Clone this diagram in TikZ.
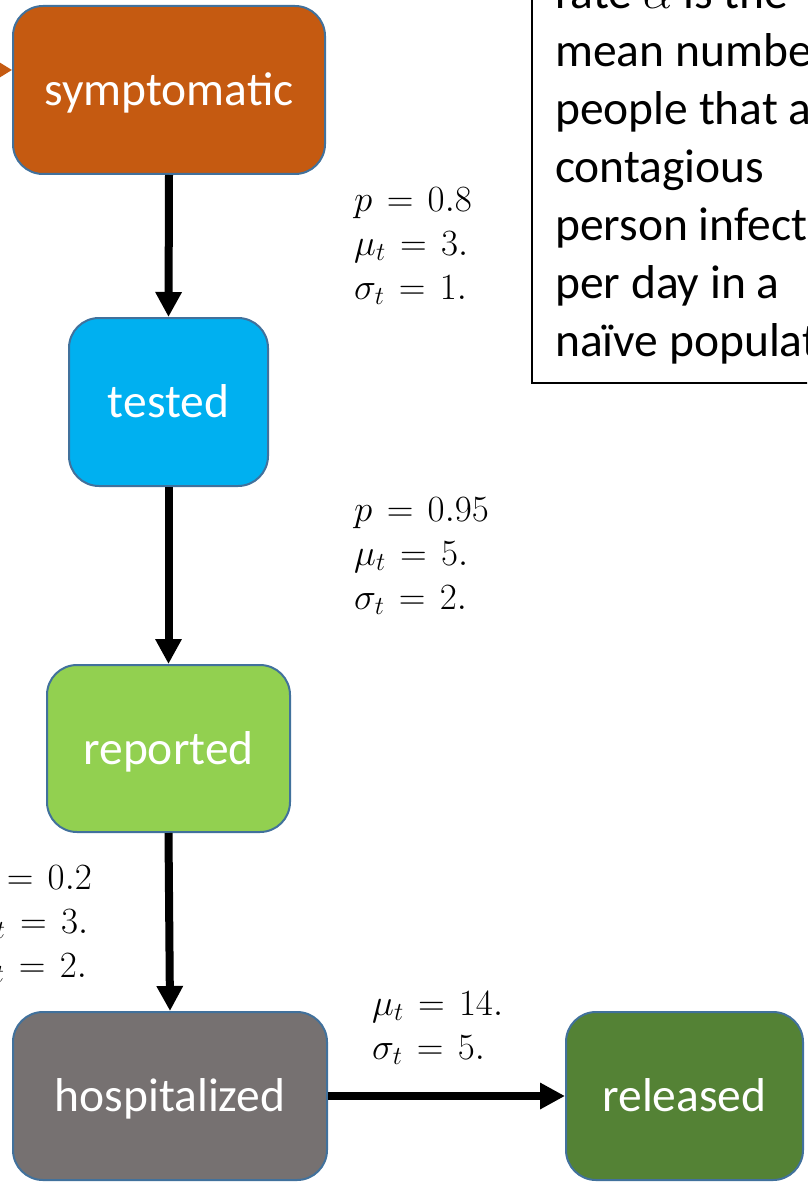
\RequirePackage{fix-cm}
\documentclass[tikz,border=0pt]{standalone}
\usepackage{fontspec}
\setmainfont{Carlito}
\usetikzlibrary{arrows.meta}
\thickmuskip=7mu
\definecolor{bord}{HTML}{41719C}
\definecolor{corange}{HTML}{C55A11}
\definecolor{cblue}{HTML}{00B0F0}
\definecolor{clgreen}{HTML}{92D050}
\definecolor{cgray}{HTML}{767171}
\definecolor{cdgreen}{HTML}{548235}
\begin{document}
\begin{tikzpicture}[x=1pt,y=-1pt,
  box/.style={draw=bord, line width=2pt, rounded corners=30pt, text=white,
    font=\fontsize{47.5}{55}\selectfont, inner sep=0pt, text height=31pt, text depth=0pt},
  flow/.style={line width=8pt, -{Triangle[width=25pt,length=25pt]}},
  inflow/.style={draw=corange, line width=3pt, -{Triangle[width=20pt,length=17pt]}, color=corange},
  lab/.style={anchor=north west, align=left, inner sep=0pt,
    font=\fontsize{37}{44}\selectfont},
  notebox/.style={anchor=north west, align=left, inner sep=0pt, font=\fontsize{47.5}{58}\selectfont}]
\useasboundingbox (0,0) rectangle (807,1182);
\clip (0,0) rectangle (807,1182);

\node[box, fill=corange, minimum width=312pt, minimum height=168pt] (symp) at (169,90) {symptomatic};
\node[box, fill=cblue, minimum width=199pt, minimum height=168pt] (test) at (168.5,402) {tested};
\node[box, fill=clgreen, minimum width=243pt, minimum height=167pt] (rep) at (168.5,748.5) {reported};
\node[box, fill=cgray, minimum width=314pt, minimum height=168pt] (hosp) at (170,1096) {hospitalized};
\node[box, fill=cdgreen, minimum width=237pt, minimum height=168pt] (rel) at (684.5,1096) {released};

\coordinate (src) at (-60,70);
\draw[inflow] (src) -- (symp.west |- src);

\draw[flow] (symp.south) -- (test.north);
\draw[flow] (test.south) -- (rep.north);
\draw[flow] (rep.south) -- (hosp.north);
\draw[flow] (hosp.east) -- (rel.west);

\node[lab] (l1) at (354,187) {$p=0.8$\\ $\mu_t=3.$\\ $\sigma_t=1.$};
\node[lab] (l2) at (354,497) {$p=0.95$\\ $\mu_t=5.$\\ $\sigma_t=2.$};
\node[lab] (l3) at (-26,865) {$p=0.2$\\ $\mu_t=3.$\\ $\sigma_t=2.$};
\node[lab] (l4) at (372,991) {$\mu_t=14.$\\ $\sigma_t=5.$};

\draw[line width=2pt] (532,-60) rectangle (1000,383);
\node[notebox] (note) at (555,-25) {rate $\alpha$ is the\\ mean number of\\ people that a\\ contagious\\ person infects\\ per day in a\\ naïve population};
\end{tikzpicture}
\end{document}
